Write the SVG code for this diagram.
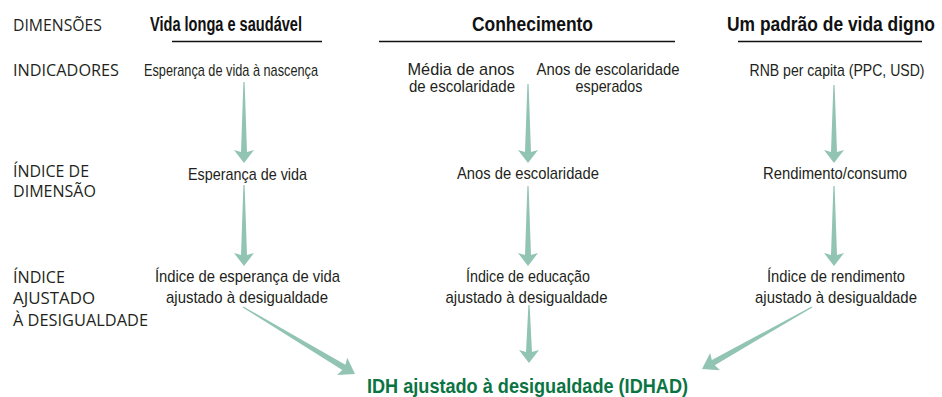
<svg xmlns="http://www.w3.org/2000/svg" width="942" height="397" viewBox="0 0 942 397">
<style>
.lbl{font-family:"Open Sans","Noto Sans",sans-serif;font-size:15.5px;fill:#231f20}
.hdr{font-family:"Liberation Sans",Arial,sans-serif;font-weight:bold;font-size:20px;fill:#111;text-anchor:middle}
.txt{font-family:"Liberation Sans",Arial,sans-serif;font-size:17px;fill:#231f20;text-anchor:middle}
.ttl{font-family:"Liberation Sans",Arial,sans-serif;font-weight:bold;font-size:21px;fill:#0b7443;text-anchor:middle}
.rule{stroke:#111;stroke-width:1.5}
.arr{fill:#92c4b4;stroke:none}
</style>
<rect width="942" height="397" fill="#fff"/>
<g id="row-labels">
<text class="lbl" x="13" y="31" textLength="89" lengthAdjust="spacingAndGlyphs">DIMENSÕES</text>
<text class="lbl" x="13" y="76" textLength="106" lengthAdjust="spacingAndGlyphs">INDICADORES</text>
<text class="lbl" x="13" y="177" textLength="76" lengthAdjust="spacingAndGlyphs">ÍNDICE DE</text>
<text class="lbl" x="13" y="197" textLength="83" lengthAdjust="spacingAndGlyphs">DIMENSÃO</text>
<text class="lbl" x="13" y="283" textLength="52" lengthAdjust="spacingAndGlyphs">ÍNDICE</text>
<text class="lbl" x="13" y="304" textLength="82" lengthAdjust="spacingAndGlyphs">AJUSTADO</text>
<text class="lbl" x="13" y="326" textLength="135" lengthAdjust="spacingAndGlyphs">À DESIGUALDADE</text>
</g>
<g id="dim-health">
<text class="hdr" x="226" y="31" textLength="152" lengthAdjust="spacingAndGlyphs">Vida longa e saudável</text>
<line class="rule" x1="172" y1="41.5" x2="322" y2="41.5"/>
</g>
<g id="dim-knowledge">
<text class="hdr" x="532.5" y="31" textLength="121" lengthAdjust="spacingAndGlyphs">Conhecimento</text>
<line class="rule" x1="379" y1="41.5" x2="675" y2="41.5"/>
</g>
<g id="dim-living">
<text class="hdr" x="831" y="31" textLength="208" lengthAdjust="spacingAndGlyphs">Um padrão de vida digno</text>
<line class="rule" x1="738" y1="41.5" x2="922" y2="41.5"/>
</g>
<g id="ind-life">
<text class="txt" x="231" y="76" textLength="174" lengthAdjust="spacingAndGlyphs">Esperança de vida à nascença</text>
</g>
<g id="ind-mean-school">
<text class="txt" x="461" y="75" textLength="107" lengthAdjust="spacingAndGlyphs">Média de anos</text>
<text class="txt" x="462" y="92" textLength="106" lengthAdjust="spacingAndGlyphs">de escolaridade</text>
</g>
<g id="ind-exp-school">
<text class="txt" x="608" y="75" textLength="143" lengthAdjust="spacingAndGlyphs">Anos de escolaridade</text>
<text class="txt" x="609" y="92" textLength="67" lengthAdjust="spacingAndGlyphs">esperados</text>
</g>
<g id="ind-gni">
<text class="txt" x="837" y="76" textLength="175" lengthAdjust="spacingAndGlyphs">RNB per capita (PPC, USD)</text>
</g>
<g id="dix-life">
<text class="txt" x="247.5" y="180" textLength="119" lengthAdjust="spacingAndGlyphs">Esperança de vida</text>
</g>
<g id="dix-school">
<text class="txt" x="528" y="179" textLength="142" lengthAdjust="spacingAndGlyphs">Anos de escolaridade</text>
</g>
<g id="dix-income">
<text class="txt" x="835" y="179" textLength="144" lengthAdjust="spacingAndGlyphs">Rendimento/consumo</text>
</g>
<g id="adj-life">
<text class="txt" x="247.5" y="282" textLength="185" lengthAdjust="spacingAndGlyphs">Índice de esperança de vida</text>
<text class="txt" x="247" y="303" textLength="162" lengthAdjust="spacingAndGlyphs">ajustado à desigualdade</text>
</g>
<g id="adj-edu">
<text class="txt" x="528" y="282" textLength="124" lengthAdjust="spacingAndGlyphs">Índice de educação</text>
<text class="txt" x="526.5" y="303" textLength="162" lengthAdjust="spacingAndGlyphs">ajustado à desigualdade</text>
</g>
<g id="adj-income">
<text class="txt" x="836" y="282" textLength="138" lengthAdjust="spacingAndGlyphs">Índice de rendimento</text>
<text class="txt" x="836" y="303" textLength="162" lengthAdjust="spacingAndGlyphs">ajustado à desigualdade</text>
</g>
<g id="ihdi">
<text class="ttl" x="527.5" y="393" textLength="321" lengthAdjust="spacingAndGlyphs">IDH ajustado à desigualdade (IDHAD)</text>
</g>
<g id="connectors">
<polygon class="arr" points="243.4,82 244.6,82 247,152 254,150 244,163 234,150 241,152"/>
<polygon class="arr" points="243.4,185 244.6,185 247,255 254,253 244,266 234,253 241,255"/>
<polygon class="arr" points="527.4,84 528.6,84 531,152 538,150 528,163 518,150 525,152"/>
<polygon class="arr" points="527.4,186 528.6,186 531,255 538,253 528,266 518,253 525,255"/>
<polygon class="arr" points="528.4,305 529.6,305 532,352 539,350 529,363 519,350 526,352"/>
<polygon class="arr" points="833.4,85 834.6,85 837,152 844,150 834,163 824,150 831,152"/>
<polygon class="arr" points="833.4,186 834.6,186 837,255 844,253 834,266 824,253 831,255"/>
<polygon class="arr" points="243.31,306.49 345.39,364.76 347.26,357.72 355,374 337.0,374.88 342.31,369.90 242.69,307.51"/>
<polygon class="arr" points="811.71,306.48 711.85,360.01 710.15,352.93 702,369 719.97,370.35 714.79,365.23 812.29,307.52"/>
</g>
</svg>
